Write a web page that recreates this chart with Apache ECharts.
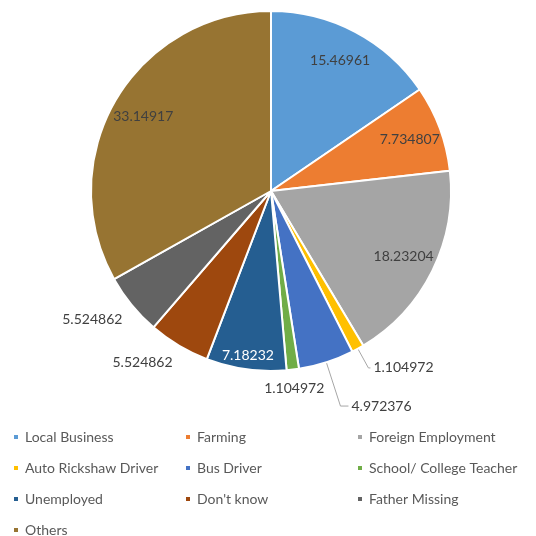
<!DOCTYPE html>
<html>
<head>
<meta charset="utf-8">
<script src="https://cdn.jsdelivr.net/npm/echarts@6/dist/echarts.min.js"></script>
<style>
  html, body { margin: 0; padding: 0; background: #fff; }
  #chart { width: 536px; height: 536px; }
</style>
</head>
<body>
<div id="chart"></div>
<script>
const categories = ['Local Business', 'Farming', 'Foreign Employment', 'Auto Rickshaw Driver', 'Bus Driver',
  'School/ College Teacher', 'Unemployed', "Don't know", 'Father Missing', 'Others'];
const values = [15.46961, 7.734807, 18.23204, 1.104972, 4.972376, 1.104972, 7.18232, 5.524862, 5.524862, 33.14917];
const colors = ['#5B9BD5', '#ED7D31', '#A5A5A5', '#FFC000', '#4472C4', '#70AD47', '#255E91', '#9E480E', '#636363', '#977432'];

// which label goes where
const insideLabels = [0, 1, 2, 9];
const deepInsideLabels = [6];
const leaderLabels = { 3: [22, 2], 4: [46, 8] };   // labelLine length, length2
const edgeLabels = [5, 7, 8];
const centeredLabels = [5];

const font = 'Lato';
const center = [271, 191];
const R = 180;

const chart = echarts.init(document.getElementById('chart'));

function overlay(inner, show, color) {
  return {
    type: 'pie',
    center: center,
    radius: [inner, R],
    startAngle: 90,
    silent: true,
    animation: false,
    avoidLabelOverlap: false,
    itemStyle: { color: 'transparent', borderWidth: 0 },
    label: { show: false, position: 'inside', formatter: '{c}', fontFamily: font, fontSize: 14, color: color },
    labelLine: { show: false },
    data: categories.map((name, i) => ({ name: name, value: values[i], label: { show: show.includes(i) } }))
  };
}

chart.setOption({
  color: colors,
  animation: false,
  legend: {
    data: categories,
    left: 12,
    top: 426,
    width: 520,
    padding: 0,
    itemGap: 9,
    icon: 'rect',
    itemWidth: 6,
    itemHeight: 6,
    selectedMode: false,
    textStyle: { fontFamily: font, fontSize: 14, color: '#595959', width: 150, lineHeight: 22, padding: [0, 0, 0, 1] }
  },
  series: [
    {
      type: 'pie',
      center: center,
      radius: R,
      startAngle: 90,
      clockwise: true,
      avoidLabelOverlap: false,
      emphasis: { disabled: true },
      itemStyle: { borderColor: '#fff', borderWidth: 2 },
      label: { show: false, formatter: '{c}', fontFamily: font, fontSize: 14, color: '#404040', distanceToLabelLine: 3 },
      labelLine: { show: false, lineStyle: { color: '#a6a6a6', width: 1 } },
      labelLayout: function (p) {
        if (!edgeLabels.includes(p.dataIndex)) return;
        const r = p.labelRect;
        return { dx: centeredLabels.includes(p.dataIndex) ? -r.width / 2 : 0, dy: r.height / 2 };
      },
      data: categories.map((name, i) => {
        const it = { name: name, value: values[i] };
        if (leaderLabels[i]) {
          it.label = { show: true, position: 'outside' };
          it.labelLine = { show: true, length: leaderLabels[i][0], length2: leaderLabels[i][1] };
        } else if (edgeLabels.includes(i)) {
          it.label = { show: true, position: 'outside', distanceToLabelLine: 0 };
          it.labelLine = { show: false, length: 12, length2: 0 };
        }
        return it;
      })
    },
    overlay(110, insideLabels, '#404040'),
    overlay(147, deepInsideLabels, '#ffffff')
  ]
});
</script>
</body>
</html>
